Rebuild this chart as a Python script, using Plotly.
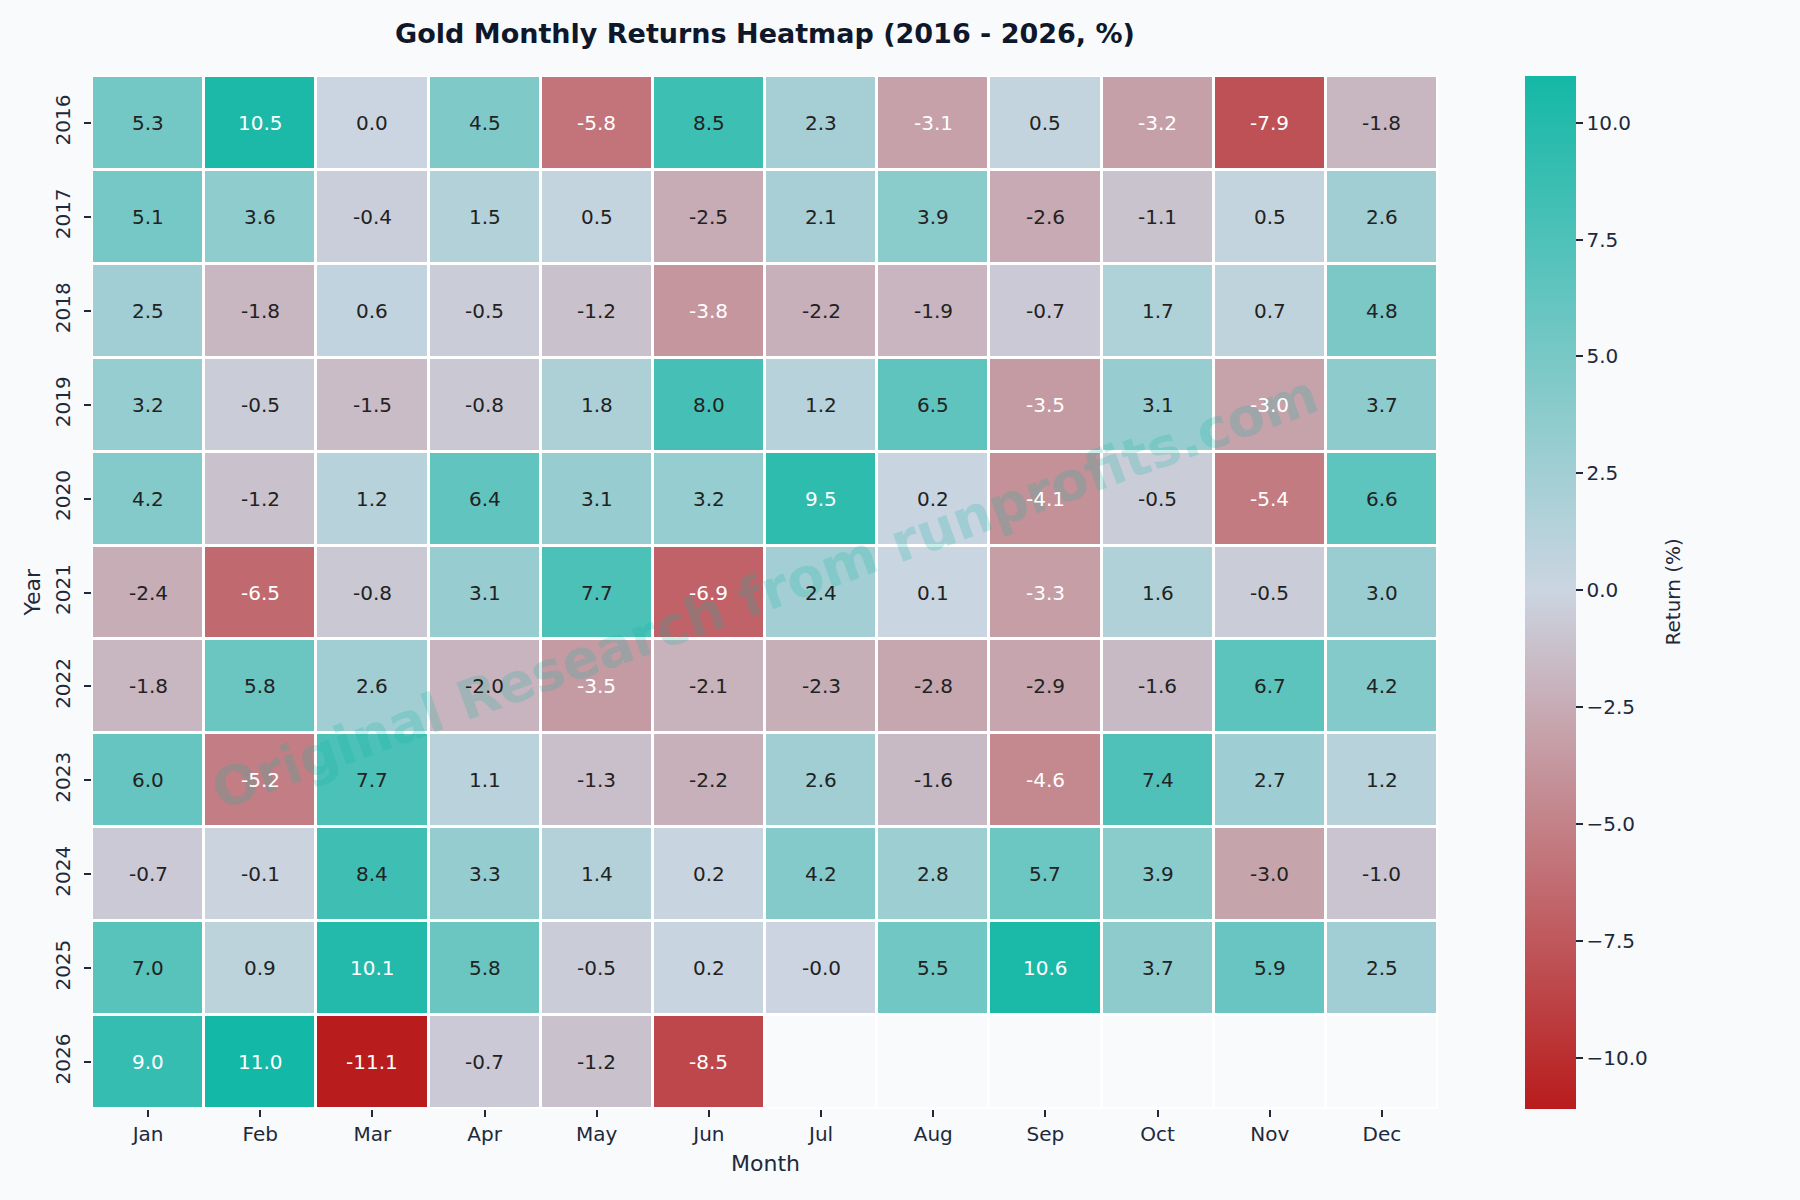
import plotly.graph_objects as go

months = ["Jan", "Feb", "Mar", "Apr", "May", "Jun", "Jul", "Aug", "Sep", "Oct", "Nov", "Dec"]
years = ["2016", "2017", "2018", "2019", "2020", "2021", "2022", "2023", "2024", "2025", "2026"]

r2016 = [5.3, 10.5, 0.0, 4.5, -5.8, 8.5, 2.3, -3.1, 0.5, -3.2, -7.9, -1.8]
r2017 = [5.1, 3.6, -0.4, 1.5, 0.5, -2.5, 2.1, 3.9, -2.6, -1.1, 0.5, 2.6]
r2018 = [2.5, -1.8, 0.6, -0.5, -1.2, -3.8, -2.2, -1.9, -0.7, 1.7, 0.7, 4.8]
r2019 = [3.2, -0.5, -1.5, -0.8, 1.8, 8.0, 1.2, 6.5, -3.5, 3.1, -3.04, 3.7]
r2020 = [4.2, -1.2, 1.2, 6.4, 3.1, 3.2, 9.5, 0.2, -4.1, -0.5, -5.4, 6.6]
r2021 = [-2.4, -6.5, -0.8, 3.1, 7.7, -6.9, 2.4, 0.1, -3.3, 1.6, -0.5, 3.0]
r2022 = [-1.8, 5.8, 2.6, -2.0, -3.5, -2.1, -2.3, -2.8, -2.9, -1.6, 6.7, 4.2]
r2023 = [6.0, -5.2, 7.7, 1.1, -1.3, -2.2, 2.6, -1.6, -4.6, 7.4, 2.7, 1.2]
r2024 = [-0.7, -0.1, 8.4, 3.3, 1.4, 0.2, 4.2, 2.8, 5.7, 3.9, -2.96, -1.0]
r2025 = [7.0, 0.9, 10.1, 5.8, -0.5, 0.2, -0.04, 5.5, 10.6, 3.7, 5.9, 2.5]
r2026 = [9.0, 11.0, -11.1, -0.7, -1.2, -8.5, None, None, None, None, None, None]

z = [r2016, r2017, r2018, r2019, r2020, r2021, r2022, r2023, r2024, r2025, r2026]

cb_ticks = [-10.0, -7.5, -5.0, -2.5, 0.0, 2.5, 5.0, 7.5, 10.0]

FONT = "DejaVu Sans"
DARK = "#1e293b"
BG = "#f8fafc"

vals = [v for row in z for v in row if v is not None]
zmin, zmax = min(vals), max(vals)
mid = (0 - zmin) / (zmax - zmin)

colorscale = [[0.0, "#b91c1c"], [mid, "#cbd5e1"], [1.0, "#14b8a6"]]

fig = go.Figure()

# empty (missing) cells drawn in background tone
empty = [[1 if v is None else None for v in row] for row in z]
fig.add_trace(go.Heatmap(
    z=empty, x=months, y=years, colorscale=[[0, BG], [1, BG]],
    showscale=False, xgap=3, ygap=3, hoverinfo="skip",
))

fig.add_trace(go.Heatmap(
    z=z, x=months, y=years, colorscale=colorscale, zmin=zmin, zmax=zmax,
    xgap=3, ygap=3,
    colorbar=dict(
        x=(1524.5 - 92) / 1346, xanchor="left", xpad=0, ypad=0,
        y=0.5, yanchor="middle", len=1.0, lenmode="fraction",
        thickness=51, outlinewidth=0,
        tickvals=cb_ticks, tickformat=".1f",
        ticks="outside", ticklen=7, tickwidth=1.5, tickcolor=DARK,
        tickfont=dict(family=FONT, size=20, color=DARK),
    ),
    hovertemplate="%{y} %{x}: %{z:.1f}%<extra></extra>",
))

annotations = []
# watermark (below cell labels)
annotations.append(dict(
    text="Original Research from runprofits.com", x=0.5, y=0.5,
    xref="paper", yref="paper", showarrow=False, textangle=-20,
    font=dict(family=FONT, size=54, color="rgba(20,184,166,0.22)", weight="bold"),
))

for yi, row in enumerate(z):
    for xi, v in enumerate(row):
        if v is None:
            continue
        col = "white" if (v < -3.0 or v > 8.75) else "#222222"
        annotations.append(dict(
            text=f"{v:.1f}", x=xi, y=yi, xref="x", yref="y",
            showarrow=False, font=dict(family=FONT, size=20, color=col),
        ))

annotations += [
    dict(text="Month", x=0.5, y=(1109 - 1163) / 1033, xref="paper", yref="paper",
         showarrow=False, yanchor="middle", font=dict(family=FONT, size=22, color=DARK)),
    dict(text="Year", x=(32 - 92) / 1346, y=0.5, xref="paper", yref="paper",
         showarrow=False, textangle=-90, xanchor="center",
         font=dict(family=FONT, size=22, color=DARK)),
    dict(text="Return (%)", x=(1672 - 92) / 1346, y=0.5, xref="paper", yref="paper",
         showarrow=False, textangle=-90, xanchor="center",
         font=dict(family=FONT, size=20, color=DARK)),
]

fig.update_layout(
    width=1800, height=1200, autosize=False,
    margin=dict(l=92, r=362, t=76, b=91),
    paper_bgcolor=BG, plot_bgcolor="white",
    title=dict(
        text="<b>Gold Monthly Returns Heatmap (2016 - 2026, %)</b>",
        x=0.5, xref="paper", xanchor="center",
        y=1 - 34 / 1200, yref="container", yanchor="middle",
        font=dict(family=FONT, size=27, color="#0f172a"),
    ),
    annotations=annotations,
    xaxis=dict(
        type="category", categoryorder="array", categoryarray=months,
        showgrid=False, zeroline=False, showline=False,
        ticks="outside", ticklen=7, tickwidth=1.5, tickcolor=DARK,
        tickfont=dict(family=FONT, size=20, color=DARK),
    ),
    yaxis=dict(
        type="category", categoryorder="array", categoryarray=years,
        autorange="reversed",
        showgrid=False, zeroline=False, showline=False,
        ticks="outside", ticklen=7, tickwidth=1.5, tickcolor=DARK,
        tickangle=-90, ticklabelstandoff=6,
        tickfont=dict(family=FONT, size=20, color=DARK),
    ),
)

fig.write_html("out.html")
